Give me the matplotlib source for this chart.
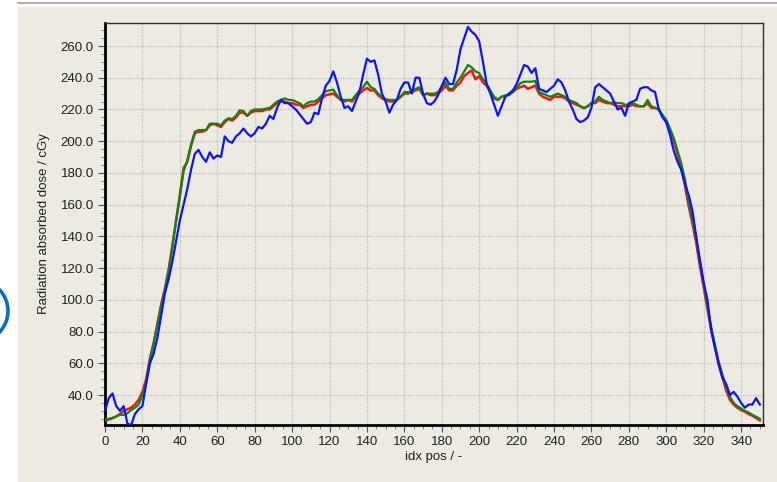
import matplotlib
matplotlib.use('Agg')
import matplotlib.pyplot as plt
from matplotlib.patches import Rectangle, Ellipse
from matplotlib.ticker import MultipleLocator, FormatStrFormatter
import numpy as np

# ---- data: dose profile sampled every 2 idx positions (0..350) ----
idx_pos = np.arange(0, 351, 2)

dose_red = [
    24, 24.5, 25.5, 26.5, 28, 30, 31, 32, 34, 37,
    42, 50, 63, 73, 85, 97, 107, 119, 134, 150,
    166, 183, 187, 197, 205, 206, 206, 207, 210, 211,
    210, 209, 212, 214, 213, 215, 218, 218, 216, 218,
    219, 219, 219, 220, 220, 222, 224, 225, 225, 224,
    224, 223, 223, 221, 222, 223, 223, 225, 227, 229,
    229.5, 230, 228, 226, 225, 226, 225, 228, 230, 232,
    233.5, 232, 232, 229, 227, 226, 225, 225, 226, 228,
    230, 230, 231, 232, 233, 229, 230, 229, 229, 230,
    232, 235, 232, 232, 235, 237, 241, 243, 244.5, 239,
    241, 237, 235, 231, 227, 226, 228, 228, 230, 231,
    233, 234, 235, 233, 234, 235, 230, 228, 227, 226,
    228, 228, 228, 227, 225, 224, 223, 222, 221, 222,
    224, 224, 226, 225, 224, 224, 223, 222, 222, 222,
    222, 223, 222, 222, 222, 224, 221, 221, 220, 216,
    212, 206, 200, 192, 183, 172, 159, 148, 136, 121,
    108, 94, 81, 70, 59, 51, 43, 37, 34, 32,
    30.5, 29.5, 28, 27, 25.5, 24,
]

dose_green = [
    24.5, 25, 25.5, 26.5, 27.5, 27.5, 28.5, 30.5, 32, 34,
    40, 48, 62, 72, 84, 96, 106, 118, 133, 150,
    165, 181, 188, 198, 206, 207, 207, 207, 211, 211,
    211, 210, 213, 214.5, 214, 216, 219.5, 219, 216, 219,
    220, 220, 220, 220.5, 221, 223, 225, 226, 227, 226,
    226, 225, 224, 222, 224, 225, 225, 226.5, 229, 231.5,
    232, 232.5, 229, 226, 226, 226, 226, 229, 232, 234,
    237.5, 234, 233, 230, 228, 226.5, 226, 226, 226, 228,
    231, 231, 231, 233, 234, 229, 230, 230, 230, 231,
    234, 237, 233, 233, 237, 240, 244, 248, 246.5, 244,
    243, 239, 236, 232, 228, 226, 228, 229, 229, 231,
    234, 236.5, 237.5, 237.5, 237.5, 238, 231, 230, 229, 228,
    229, 230, 229, 228, 226, 225, 224, 222, 220.7, 222,
    224, 225, 228, 226, 225, 224, 224.5, 224, 224, 223,
    223, 224, 223, 222, 222, 226, 222, 221, 220, 216.5,
    213.5, 208, 202, 194, 186, 176, 162, 151, 138, 124,
    110, 96, 83, 72, 61, 53, 45, 39, 35, 33,
    31.5, 30, 29, 27.5, 26.3, 25,
]

dose_blue = [
    30, 38, 41, 33, 30, 33, 22, 21, 28, 31,
    33, 47, 60, 66, 76, 90, 104, 113, 124, 137,
    150, 160, 170, 182, 192, 194.5, 190, 187, 193, 189,
    191, 190, 203, 200, 199, 203, 205, 208, 205, 203,
    205, 209, 208, 211, 216, 214, 221, 226, 224, 224,
    222, 220, 217, 214, 211, 212, 218, 217, 227, 235,
    238, 244, 237, 228, 221, 222, 219, 225, 231, 242,
    252, 250, 251, 242, 230, 225, 218, 223, 226, 233,
    237, 237, 230, 240, 240, 230, 224, 223, 225, 229,
    235, 240, 236, 236, 245, 258, 265, 272, 269, 267,
    263, 250, 236, 230, 223, 216, 222, 228, 230, 232,
    236, 242, 248, 247, 243, 246, 233, 232, 231, 233,
    235, 239, 237, 232, 225, 220, 214, 212, 213, 215,
    221, 234, 236, 234, 232, 230, 225, 220, 221, 216,
    224, 225, 226, 233, 234, 234, 232, 231, 220, 215,
    212, 204, 194, 187, 182, 173, 166, 156, 140, 125,
    111, 100, 81, 70, 60, 51, 47, 40, 42, 39,
    35, 32, 34, 34, 38, 34,
]

x_ticks = np.arange(0, 341, 20)
y_ticks = np.arange(40, 261, 20)

# ---- figure ----
W, H = 777, 482
plt.rcParams['font.family'] = ['Liberation Sans', 'DejaVu Sans']
fig = plt.figure(figsize=(W / 100, H / 100), dpi=100, facecolor='white')

panel = '#EDEAE2'
# window panel and top separator
fig.patches.append(Rectangle((18 / W, 0), 1 - 18 / W, 1 - 7 / H, transform=fig.transFigure,
                             facecolor=panel, edgecolor='none', zorder=-10))
fig.add_artist(plt.Line2D([18 / W, 1], [1 - 3 / H, 1 - 3 / H], transform=fig.transFigure,
                          color='#A0A0A0', lw=1.2, zorder=-5))
# partial blue ring on the left edge
fig.add_artist(Ellipse((-21 / W, 1 - 311 / H), 58 / W, 60 / H, transform=fig.transFigure,
                       facecolor='none', edgecolor='#0A70C4', lw=2.6, zorder=-5))

ax = fig.add_axes([105 / W, 1 - 425 / H, (763 - 105) / W, (425 - 23) / H])
ax.set_zorder(2)
ax.set_facecolor(panel)

ax.plot(idx_pos, dose_red, color='#FF1010', lw=1.8, zorder=3)
ax.plot(idx_pos, dose_green, color='#0A8A0A', lw=1.6, zorder=4)
ax.plot(idx_pos, dose_blue, color='#0A14FF', lw=1.6, zorder=5)

ax.set_xlim(0, 351.7)
ax.set_ylim(21.1, 274.5)
ax.set_xticks(x_ticks)
ax.set_yticks(y_ticks)
ax.xaxis.set_minor_locator(MultipleLocator(5))
ax.yaxis.set_minor_locator(MultipleLocator(5))
ax.yaxis.set_major_formatter(FormatStrFormatter('%.1f'))
ax.tick_params(which='major', length=5, width=0.8, color='#555555', labelsize=9.5,
               labelcolor='#202020', pad=3)
ax.tick_params(which='minor', length=3, width=0.6, color='#777777')

ax.grid(True, which='major', color='#BDBDBD', linestyle=(0, (1, 1)), lw=0.9)

for side in ['left', 'bottom']:
    ax.spines[side].set_linewidth(2)
    ax.spines[side].set_color('black')
for side in ['top', 'right']:
    ax.spines[side].set_linewidth(1)
    ax.spines[side].set_color('#303030')

ax.set_xlabel('idx pos / -', fontsize=9.5, color='#202020', labelpad=2)
ax.set_ylabel('Radiation absorbed dose / cGy', fontsize=9.5, color='#202020', labelpad=8)

fig.savefig('out.png', dpi=100, facecolor='white')
